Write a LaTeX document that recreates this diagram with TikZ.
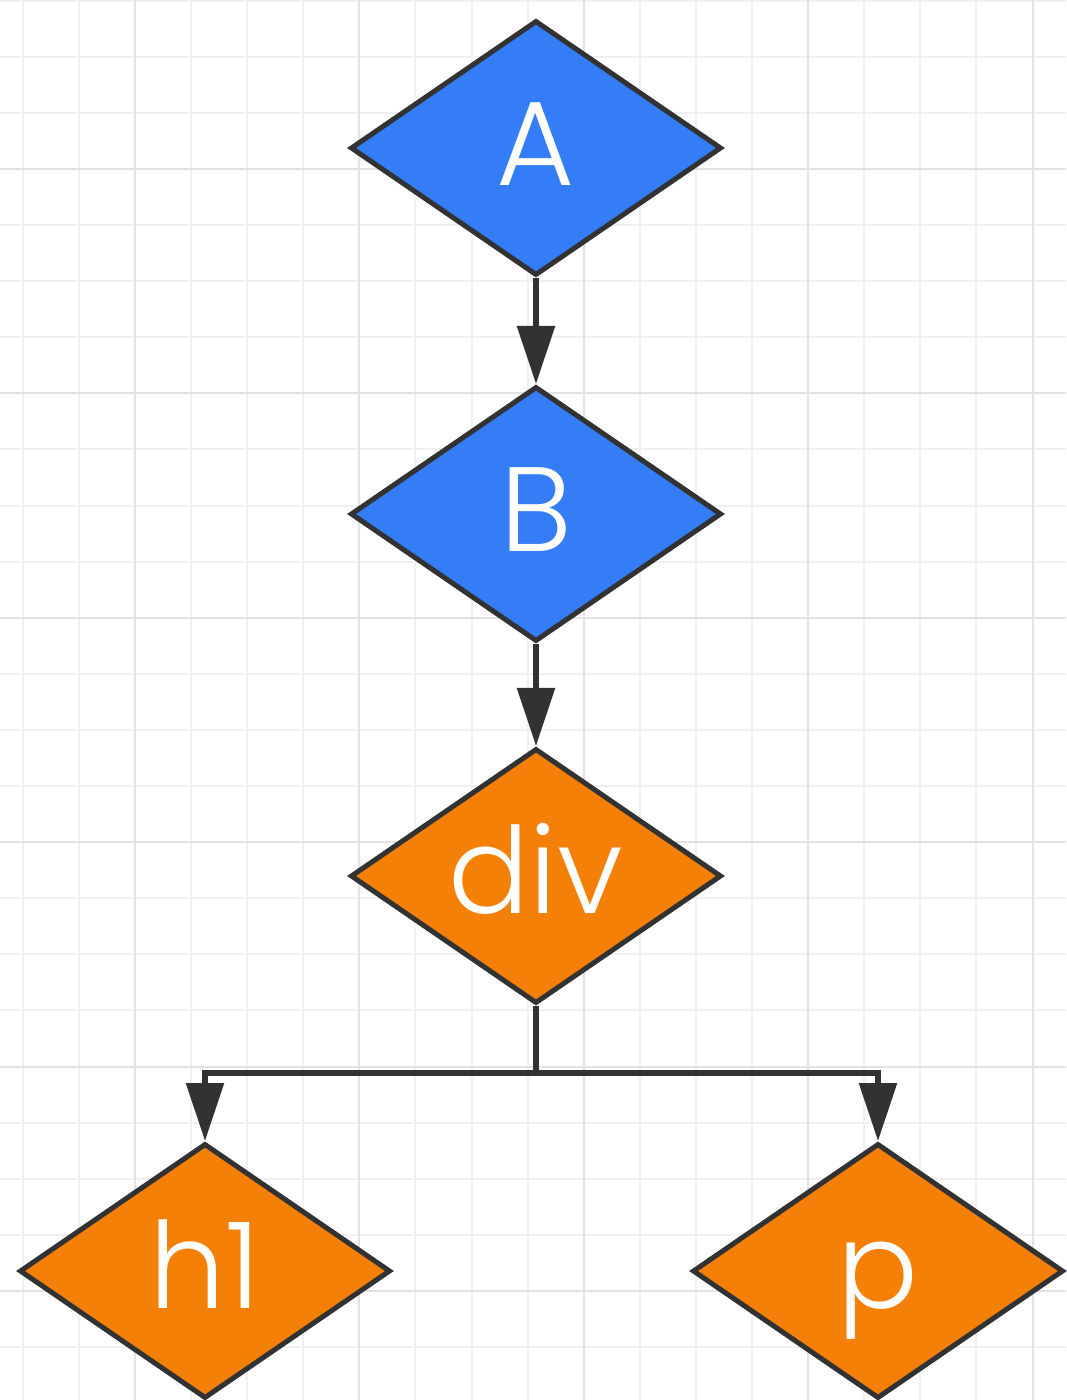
\documentclass[tikz,border=0pt]{standalone}
\usepackage{fontspec}
\setmainfont{Poppins}[UprightFont={* Light}]
\usetikzlibrary{shapes.geometric,arrows.meta}
\definecolor{gminor}{RGB}{240,240,240}
\definecolor{gmajor}{RGB}{226,226,226}
\definecolor{nblue}{RGB}{52,125,246}
\definecolor{norange}{RGB}{245,128,8}
\definecolor{ink}{RGB}{50,50,50}
\newcommand\dlbl[1]{\raisebox{-37pt}[0pt][0pt]{\makebox[0pt]{#1}}}
\tikzset{
  dia/.style={shape=diamond, draw=ink, line width=5pt, inner sep=0pt,
    minimum width=371pt, minimum height=255pt, text=white,
    font=\fontsize{120}{120}\selectfont},
  bluedia/.style={dia, fill=nblue},
  orangedia/.style={dia, fill=norange},
  wire/.style={draw=ink, line width=5.5pt},
  conn/.style={wire, -{Triangle[length=58pt,width=37pt]}},
}
\begin{document}
\begin{tikzpicture}[x=1pt,y=-1pt]
\useasboundingbox (0,0) rectangle (1066,1400);
\fill[white] (0,0) rectangle (1066,1400);
% grid
\foreach \i in {0,...,18} {
  \draw[gminor, line width=2pt] ({22.7+56.1*\i},0) -- ({22.7+56.1*\i},1400);
}
\foreach \i in {0,...,24} {
  \draw[gminor, line width=2pt] (0,{0.6+56.1*\i}) -- (1066,{0.6+56.1*\i});
}
\foreach \i in {0,...,4} {
  \draw[gmajor, line width=2pt] ({134.9+224.4*\i},0) -- ({134.9+224.4*\i},1400);
}
\foreach \i in {0,...,5} {
  \draw[gmajor, line width=2pt] (0,{168.9+224.4*\i}) -- (1066,{168.9+224.4*\i});
}
% nodes
\node[bluedia] (A) at (536,148) {\dlbl{A}};
\node[bluedia] (B) at (536,514) {\dlbl{B}};
\node[orangedia] (div) at (536,876) {\dlbl{div}};
\node[orangedia] (h1) at (205,1271) {\dlbl{h1}};
\node[orangedia] (p) at (878,1271) {\dlbl{p}};
\coordinate (j) at (536,1073);
% connectors
\draw[conn] (A) -- (B);
\draw[conn] (B) -- (div);
\draw[wire] (div.south) -- (j);
\draw[conn] (j) -| (h1.north);
\draw[conn] (j) -| (p.north);
\end{tikzpicture}
\end{document}
